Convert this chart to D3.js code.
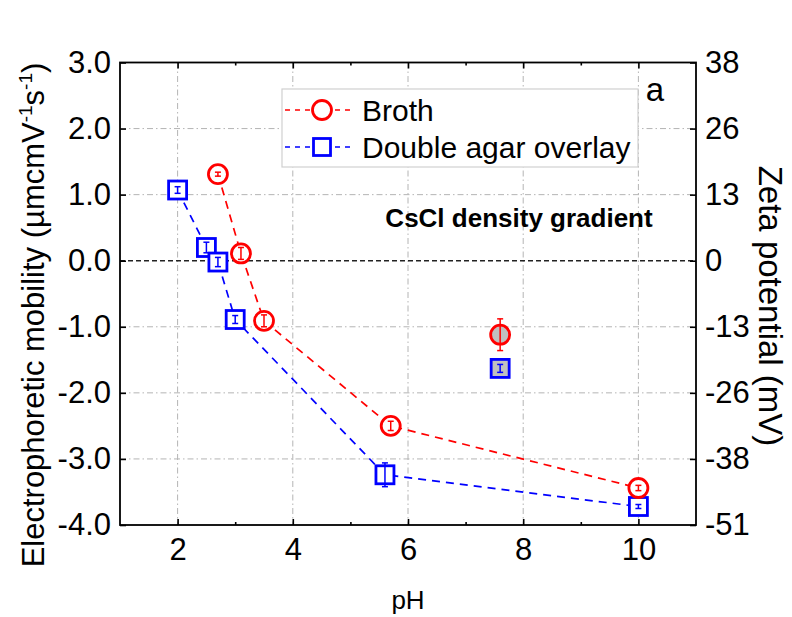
<!DOCTYPE html>
<html>
<head>
<meta charset="utf-8">
<script src="https://cdn.jsdelivr.net/npm/d3@7"></script>
<style>
  body { margin: 0; background: #fff; }
  svg { font-family: 'Liberation Sans', Arial, sans-serif; }
</style>
</head>
<body>
<svg id="chart" width="792" height="617"></svg>
<script>
// Broth (red circles)
const brothPH = [2.7, 3.1, 3.5, 5.7, 10];
const brothMob = [1.31, 0.11, -0.91, -2.5, -3.44];
const brothErr = [0.03, 0.09, 0.09, 0.07, 0.04];
// Double agar overlay (blue squares)
const agarPH = [2.0, 2.5, 2.7, 3.0, 5.6, 10];
const agarMob = [1.07, 0.2, -0.02, -0.89, -3.24, -3.72];
const agarErr = [0.05, 0.08, 0.07, 0.06, 0.18, 0.03];
// CsCl density gradient (gray filled)
const csclPH = [7.6, 7.6];
const csclMob = [-1.12, -1.63];
const csclErr = [0.24, 0.06];

const leftTicks = [3, 2, 1, 0, -1, -2, -3, -4];
const leftTickLabels = ['3.0', '2.0', '1.0', '0.0', '-1.0', '-2.0', '-3.0', '-4.0'];
const rightTickLabels = ['38', '26', '13', '0', '-13', '-26', '-38', '-51'];
const xTicks = [2, 4, 6, 8, 10];
const xMinorTicks = [3, 5, 7, 9];

const margin = { top: 62.5, right: 96, bottom: 92, left: 120 };
const width = 792 - margin.left - margin.right;
const height = 617 - margin.top - margin.bottom;

const svg = d3.select('#chart');
const chart = svg.append('g')
  .attr('transform', `translate(${margin.left}, ${margin.top})`);

const xScale = d3.scaleLinear().domain([1, 11]).range([0, width]);
const yScale = d3.scaleLinear().domain([-4, 3]).range([height, 0]);

// grid
const gridColor = '#b4b4b4';
chart.append('g')
  .selectAll('line')
  .data(xTicks)
  .enter()
  .append('line')
  .attr('x1', d => xScale(d))
  .attr('x2', d => xScale(d))
  .attr('y1', 0)
  .attr('y2', height)
  .attr('stroke', gridColor)
  .attr('stroke-dasharray', '6,3,1.5,3');
chart.append('g')
  .selectAll('line')
  .data(leftTicks.filter(d => d !== 0 && d !== 3 && d !== -4))
  .enter()
  .append('line')
  .attr('x1', 0)
  .attr('x2', width)
  .attr('y1', d => yScale(d))
  .attr('y2', d => yScale(d))
  .attr('stroke', gridColor)
  .attr('stroke-dasharray', '6,3,1.5,3');

// zero line
chart.append('line')
  .attr('x1', 0)
  .attr('x2', width)
  .attr('y1', yScale(0))
  .attr('y2', yScale(0))
  .attr('stroke', '#222')
  .attr('stroke-width', 1.6)
  .attr('stroke-dasharray', '5,3');

// axes
const tickFont = '31px';
const bottom = chart.append('g')
  .attr('transform', `translate(0, ${height})`)
  .call(d3.axisBottom(xScale).tickValues(xTicks).tickSizeInner(-6).tickSizeOuter(0).tickPadding(12));
chart.append('g')
  .attr('transform', `translate(0, ${height})`)
  .call(d3.axisBottom(xScale).tickValues(xMinorTicks).tickSizeInner(-3).tickSizeOuter(0).tickFormat(''));
chart.append('g')
  .call(d3.axisTop(xScale).tickValues(xTicks).tickSizeInner(-6).tickSizeOuter(0).tickFormat(''));
chart.append('g')
  .call(d3.axisTop(xScale).tickValues(xMinorTicks).tickSizeInner(-3).tickSizeOuter(0).tickFormat(''));
chart.append('g')
  .call(d3.axisLeft(yScale).tickValues(leftTicks).tickSizeInner(-6).tickSizeOuter(0).tickPadding(9)
    .tickFormat((d, i) => leftTickLabels[i]));
chart.append('g')
  .attr('transform', `translate(${width}, 0)`)
  .call(d3.axisRight(yScale).tickValues(leftTicks).tickSizeInner(-6).tickSizeOuter(0).tickPadding(9)
    .tickFormat((d, i) => rightTickLabels[i]));

chart.selectAll('.domain').remove();
chart.selectAll('.tick line').attr('stroke', '#000').attr('stroke-width', 1.6);
chart.selectAll('.tick text')
  .style('font-size', tickFont)
  .style('font-family', "'Liberation Sans', Arial, sans-serif")
  .attr('fill', '#000');
bottom.selectAll('.tick text').attr('dy', '0.75em');

// frame
chart.append('rect')
  .attr('x', 0)
  .attr('y', 0)
  .attr('width', width)
  .attr('height', height)
  .attr('fill', 'none')
  .attr('stroke', '#000')
  .attr('stroke-width', 1.8);

// lines
const red = '#ff0000';
const blue = '#0000ff';
const brothData = brothPH.map((d, i) => ({ x: d, y: brothMob[i], e: brothErr[i] }));
const agarData = agarPH.map((d, i) => ({ x: d, y: agarMob[i], e: agarErr[i] }));
const csclData = csclPH.map((d, i) => ({ x: d, y: csclMob[i], e: csclErr[i] }));
const line = d3.line().x(d => xScale(d.x)).y(d => yScale(d.y));

chart.append('path')
  .datum(agarData)
  .attr('d', line)
  .attr('fill', 'none')
  .attr('stroke', blue)
  .attr('stroke-width', 1.7)
  .attr('stroke-dasharray', '8,6');
chart.append('path')
  .datum(brothData)
  .attr('d', line)
  .attr('fill', 'none')
  .attr('stroke', red)
  .attr('stroke-width', 1.7)
  .attr('stroke-dasharray', '8,6');

function errorBars(data, color) {
  const g = chart.append('g').attr('stroke', color).attr('stroke-width', 1.5);
  data.forEach((d) => {
    const cx = xScale(d.x);
    g.append('line').attr('x1', cx).attr('x2', cx)
      .attr('y1', yScale(d.y - d.e)).attr('y2', yScale(d.y + d.e));
    [d.y - d.e, d.y + d.e].forEach((v) => {
      g.append('line').attr('x1', cx - 3).attr('x2', cx + 3)
        .attr('y1', yScale(v)).attr('y2', yScale(v));
    });
  });
}

function squares(data, color, fill) {
  chart.append('g')
    .selectAll('rect')
    .data(data)
    .enter()
    .append('rect')
    .attr('x', d => xScale(d.x) - 9)
    .attr('y', d => yScale(d.y) - 9)
    .attr('width', 18)
    .attr('height', 18)
    .attr('fill', fill)
    .attr('stroke', color)
    .attr('stroke-width', 2.8);
}

function circles(data, color, fill) {
  chart.append('g')
    .selectAll('circle')
    .data(data)
    .enter()
    .append('circle')
    .attr('cx', d => xScale(d.x))
    .attr('cy', d => yScale(d.y))
    .attr('r', 9.5)
    .attr('fill', fill)
    .attr('stroke', color)
    .attr('stroke-width', 2.8);
}

squares(agarData, blue, '#fff');
errorBars(agarData, blue);
circles(brothData, red, '#fff');
errorBars(brothData, red);
squares([csclData[1]], blue, '#c0c0c0');
errorBars([csclData[1]], blue);
circles([csclData[0]], red, '#c0c0c0');
errorBars([csclData[0]], red);

// legend
const legend = svg.append('g');
legend.append('rect')
  .attr('x', 282)
  .attr('y', 89)
  .attr('width', 356)
  .attr('height', 78)
  .attr('fill', '#fff')
  .attr('stroke', '#d0d0d0')
  .attr('stroke-width', 1.2);
const legendItems = [
  { name: 'Broth', color: red, shape: 'circle', y: 110 },
  { name: 'Double agar overlay', color: blue, shape: 'square', y: 147 },
];
legendItems.forEach((item) => {
  legend.append('line')
    .attr('x1', 285).attr('x2', 353)
    .attr('y1', item.y).attr('y2', item.y)
    .attr('stroke', item.color)
    .attr('stroke-width', 1.4)
    .attr('stroke-dasharray', '5,5');
  if (item.shape === 'circle') {
    legend.append('circle').attr('cx', 322).attr('cy', item.y).attr('r', 9.5)
      .attr('fill', '#fff').attr('stroke', item.color).attr('stroke-width', 2.8);
  } else {
    legend.append('rect').attr('x', 322 - 8.5).attr('y', item.y - 8.5).attr('width', 17).attr('height', 17)
      .attr('fill', '#fff').attr('stroke', item.color).attr('stroke-width', 2.8);
  }
  legend.append('text')
    .attr('x', 362)
    .attr('y', item.y + 10.5)
    .style('font-size', '30px')
    .text(item.name);
});

// annotations
svg.append('text')
  .attr('x', 655)
  .attr('y', 101)
  .attr('text-anchor', 'middle')
  .style('font-size', '33px')
  .text('a');
svg.append('text')
  .attr('x', 519)
  .attr('y', 227)
  .attr('text-anchor', 'middle')
  .style('font-size', '26px')
  .style('font-weight', 'bold')
  .text('CsCl density gradient');

// axis titles
svg.append('text')
  .attr('x', 408)
  .attr('y', 609)
  .attr('text-anchor', 'middle')
  .style('font-size', '26px')
  .text('pH');

const yTitle = svg.append('text')
  .attr('transform', 'translate(44, 315) rotate(-90)')
  .attr('text-anchor', 'middle')
  .style('font-size', '31px');
yTitle.append('tspan').text('Electrophoretic mobility (\u00b5mcmV');
yTitle.append('tspan').attr('dy', -12).style('font-size', '19px').text('-1');
yTitle.append('tspan').attr('dy', 12).text('s');
yTitle.append('tspan').attr('dy', -12).style('font-size', '19px').text('-1');
yTitle.append('tspan').attr('dy', 12).text(')');

svg.append('text')
  .attr('transform', 'translate(759, 306) rotate(90)')
  .attr('text-anchor', 'middle')
  .style('font-size', '33px')
  .text('Zeta potential (mV)');
</script>
</body>
</html>
